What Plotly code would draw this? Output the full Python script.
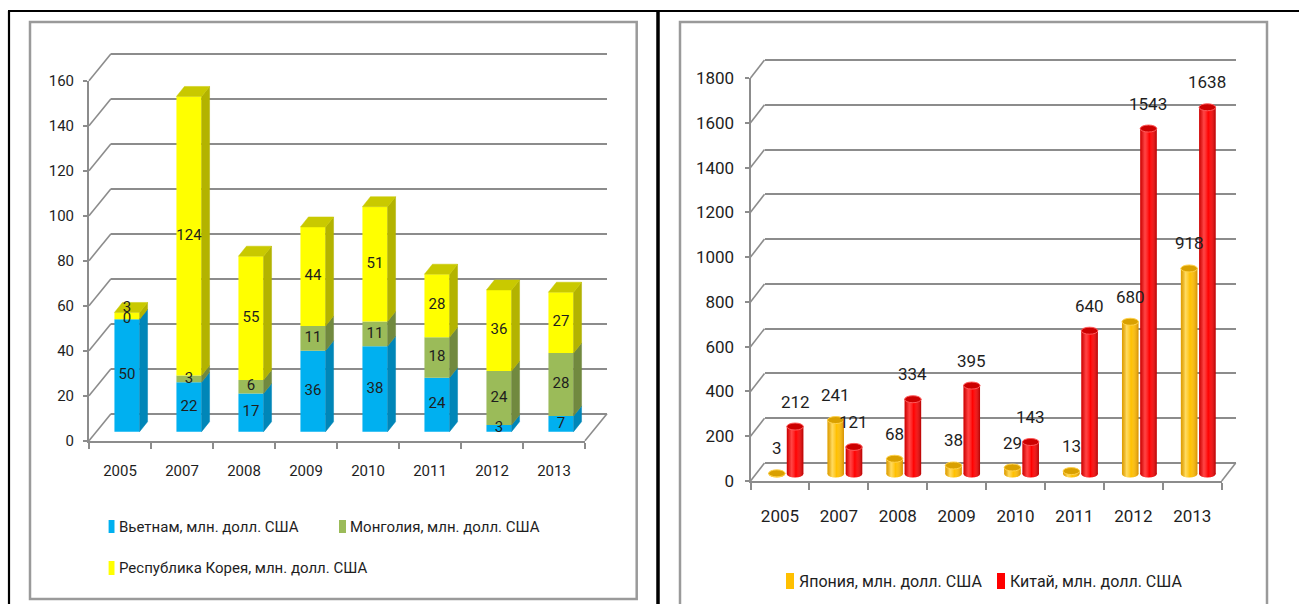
import numpy as np
import plotly.graph_objects as go

W, H = 1299, 604

# ---- data -------------------------------------------------------------
years = ["2005", "2007", "2008", "2009", "2010", "2011", "2012", "2013"]
vietnam = [50, 22, 17, 36, 38, 24, 3, 7]
mongolia = [0, 3, 6, 11, 11, 18, 24, 28]
korea = [3, 124, 55, 44, 51, 28, 36, 27]
japan = [3, 241, 68, 38, 29, 13, 680, 918]
china = [212, 121, 334, 395, 143, 640, 1543, 1638]
left_ticks = list(range(0, 161, 20))
right_ticks = list(range(0, 1801, 200))

left_names = ["Вьетнам, млн. долл. США", "Монголия, млн. долл. США",
              "Республика Корея, млн. долл. США"]
right_names = ["Япония, млн. долл. США", "Китай, млн. долл. США"]

# ---- styling ----------------------------------------------------------
FONT = "Roboto, Liberation Sans, sans-serif"
FS_L, FS_R, FS_LEG_L, FS_LEG_R = 15, 17, 15, 16
GRID = "#8c8c8c"
TXT = "#1e1e1e"
BLUE, BLUE_S = "#00b0f0", "#0086b8"
GREEN, GREEN_S = "#9bbb59", "#71893f"
YEL, YEL_S, YEL_T = "#ffff00", "#b3b300", "#c9c900"
GOLD, GOLD_CAP, GOLD_RIM = "#ffc000", "#d9a000", "#ffd24a"
RED, RED_CAP, RED_RIM = "#ff0000", "#cc0000", "#ff5a5a"

n = len(years)
xs = list(range(n))


def plane(xr, yr, x0, y0, cx, cy, sx=0.0, sy=0.0):
    """Axis domains for a depth plane: x0/y0 are the pixels of value 0 on the
    front plane, cx/cy pixels per unit, sx/sy the depth shift in pixels."""
    xd = [(x0 + sx + xr[0] * cx) / W, (x0 + sx + xr[1] * cx) / W]
    yd = [1 - (y0 + sy - yr[0] * cy) / H, 1 - (y0 + sy - yr[1] * cy) / H]
    return xd, yd


def hidden(**kw):
    d = dict(showgrid=False, zeroline=False, showline=False,
             showticklabels=False, ticks="", fixedrange=True)
    d.update(kw)
    return d


fig = go.Figure()
layout = {}
shapes = []
annotations = []


def ghost(xa, ya):
    fig.add_trace(go.Scatter(x=[None], y=[None], xaxis=xa, yaxis=ya,
                             showlegend=False, hoverinfo="skip"))


def px2paper(px, py):
    return px / W, 1 - py / H


# =====================================================================
# Left chart: stacked 3-D columns
# =====================================================================
LX, LCX = 89 + 31, 62.0          # pixel of x=0, pixels per category
LY, LCY = 440.7, 2.25            # pixel of y=0, pixels per unit
BACK_L = (22, -27)
BAR_L = (7, -9)
DEP_L = (8, -10)
bdx, bdy = BACK_L[0] / LCX, -BACK_L[1] / LCY

# back wall (grid)
xr, yr = [-0.5, 7.5], [-1, 161]
xd, yd = plane(xr, yr, LX, LY, LCX, LCY, *BACK_L)
layout["xaxis"] = hidden(domain=xd, range=xr, anchor="y")
layout["yaxis"] = hidden(domain=yd, range=yr, anchor="x", showgrid=True,
                         gridcolor=GRID, gridwidth=2, tickmode="array",
                         tickvals=left_ticks)
ghost("x", "y")

# connectors between front axis and back wall
xr, yr = [-0.7, 7.5 + bdx + 0.2], [-2, 160 + bdy + 2]
xd, yd = plane(xr, yr, LX, LY, LCX, LCY)
layout["xaxis2"] = hidden(domain=xd, range=xr, anchor="y2")
layout["yaxis2"] = hidden(domain=yd, range=yr, anchor="x2")
ghost("x2", "y2")
for v in left_ticks:
    shapes.append(dict(type="line", xref="x2", yref="y2", x0=-0.5, y0=v,
                       x1=-0.5 + bdx, y1=v + bdy, layer="below",
                       line=dict(color=GRID, width=1.6)))
shapes.append(dict(type="line", xref="x2", yref="y2", x0=7.5, y0=0,
                   x1=7.5 + bdx, y1=bdy, layer="below",
                   line=dict(color=GRID, width=1.6)))

# front axes with labels
xr, yr = [-0.5, 7.5], [0, 160]
xd, yd = plane(xr, yr, LX, LY, LCX, LCY)
layout["xaxis3"] = dict(domain=xd, range=xr, anchor="y3", showgrid=False,
                        zeroline=False, showline=True, linecolor=GRID,
                        linewidth=2, tickmode="array", tickvals=xs,
                        ticktext=years, ticks="", ticklabelstandoff=15,
                        tickfont=dict(family=FONT, size=FS_L, color=TXT),
                        minor=dict(tickmode="array",
                                   tickvals=[i - 0.5 for i in range(n + 1)],
                                   ticks="outside", ticklen=6, tickwidth=1.5,
                                   tickcolor=GRID, showgrid=False),
                        fixedrange=True)
layout["yaxis3"] = dict(domain=yd, range=yr, anchor="x3", showgrid=False,
                        zeroline=False, showline=True, linecolor=GRID,
                        linewidth=2, tickmode="array", tickvals=left_ticks,
                        ticks="outside", ticklen=4, tickwidth=1.5,
                        tickcolor=GRID, ticklabelstandoff=6,
                        tickfont=dict(family=FONT, size=FS_L, color=TXT),
                        fixedrange=True)
ghost("x3", "y3")

# columns
xr, yr = [-0.5, 7.9], [-2, 165]
xd, yd = plane(xr, yr, LX, LY, LCX, LCY, *BAR_L)
layout["xaxis4"] = hidden(domain=xd, range=xr, anchor="y4")
layout["yaxis4"] = hidden(domain=yd, range=yr, anchor="x4")

BW = 0.405
hw = BW / 2
ddx, ddy = DEP_L[0] / LCX, -DEP_L[1] / LCY
base_v = [0] * n
base_m = list(vietnam)
base_k = [a + b for a, b in zip(vietnam, mongolia)]
totals = [a + b for a, b in zip(base_k, korea)]

stack = [(vietnam, base_v, BLUE, BLUE_S, left_names[0]),
         (mongolia, base_m, GREEN, GREEN_S, left_names[1]),
         (korea, base_k, YEL, YEL_S, left_names[2])]

for vals, base, col, side, name in stack:
    fig.add_trace(go.Bar(x=xs, y=vals, base=base, width=BW, name=name,
                         marker=dict(color=col, line=dict(width=0)),
                         xaxis="x4", yaxis="y4", showlegend=False,
                         hovertemplate="%{x}: %{y}<extra>" + name + "</extra>"))
    sx_, sy_ = [], []
    for i, (b, v) in enumerate(zip(base, vals)):
        x1 = i + hw
        t = b + v
        sx_ += [x1, x1 + ddx, x1 + ddx, x1, x1, None]
        sy_ += [b, b + ddy, t + ddy, t, b, None]
    fig.add_trace(go.Scatter(x=sx_, y=sy_, mode="lines", fill="toself",
                             fillcolor=side, line=dict(color=side, width=0.5),
                             xaxis="x4", yaxis="y4", showlegend=False,
                             hoverinfo="skip"))

tx, ty = [], []
for i, T in enumerate(totals):
    x0, x1 = i - hw, i + hw
    tx += [x0, x0 + ddx, x1 + ddx, x1, x0, None]
    ty += [T, T + ddy, T + ddy, T, T, None]
fig.add_trace(go.Scatter(x=tx, y=ty, mode="lines", fill="toself",
                         fillcolor=YEL_T, line=dict(color=YEL_T, width=0.5),
                         xaxis="x4", yaxis="y4", showlegend=False,
                         hoverinfo="skip"))

# value labels in the middle of each segment; a label of the top segment
# that is too thin to hold it sits on the segment's upper edge instead
for k, (vals, base, _, _, _) in enumerate(stack):
    if k == len(stack) - 1:
        pos = ["top center" if v * LCY < 8 else "middle center" for v in vals]
    else:
        pos = "middle center"
    fig.add_trace(go.Scatter(x=xs, y=[b + v / 2 for b, v in zip(base, vals)],
                             mode="text", text=[str(v) for v in vals],
                             textposition=pos,
                             textfont=dict(family=FONT, size=FS_L, color=TXT),
                             cliponaxis=False, xaxis="x4", yaxis="y4",
                             showlegend=False, hoverinfo="skip"))

# =====================================================================
# Right chart: clustered cylinders
# =====================================================================
RCX = 58.9
RX = 750.5 + RCX / 2
RY, RCY = 481.0, 403.0 / 1800
BACK_R = (14, -18)
BAR_R = (6, -7)
rdx, rdy = BACK_R[0] / RCX, -BACK_R[1] / RCY

xr, yr = [-0.5, 7.5], [-10, 1810]
xd, yd = plane(xr, yr, RX, RY, RCX, RCY, *BACK_R)
layout["xaxis5"] = hidden(domain=xd, range=xr, anchor="y5")
layout["yaxis5"] = hidden(domain=yd, range=yr, anchor="x5", showgrid=True,
                          gridcolor=GRID, gridwidth=2, tickmode="array",
                          tickvals=right_ticks)
ghost("x5", "y5")

xr, yr = [-0.7, 7.5 + rdx + 0.2], [-20, 1800 + rdy + 20]
xd, yd = plane(xr, yr, RX, RY, RCX, RCY)
layout["xaxis6"] = hidden(domain=xd, range=xr, anchor="y6")
layout["yaxis6"] = hidden(domain=yd, range=yr, anchor="x6")
ghost("x6", "y6")
for v in right_ticks:
    shapes.append(dict(type="line", xref="x6", yref="y6", x0=-0.5, y0=v,
                       x1=-0.5 + rdx, y1=v + rdy, layer="below",
                       line=dict(color=GRID, width=1.6)))
shapes.append(dict(type="line", xref="x6", yref="y6", x0=7.5, y0=0,
                   x1=7.5 + rdx, y1=rdy, layer="below",
                   line=dict(color=GRID, width=1.6)))

xr, yr = [-0.5, 7.5], [0, 1800]
xd, yd = plane(xr, yr, RX, RY, RCX, RCY)
layout["xaxis7"] = dict(domain=xd, range=xr, anchor="y7", showgrid=False,
                        zeroline=False, showline=True, linecolor=GRID,
                        linewidth=2, tickmode="array", tickvals=xs,
                        ticktext=years, ticks="", ticklabelstandoff=19,
                        tickfont=dict(family=FONT, size=FS_R, color=TXT),
                        minor=dict(tickmode="array",
                                   tickvals=[i - 0.5 for i in range(n + 1)],
                                   ticks="outside", ticklen=7, tickwidth=1.5,
                                   tickcolor=GRID, showgrid=False),
                        fixedrange=True)
layout["yaxis7"] = dict(domain=yd, range=yr, anchor="x7", showgrid=False,
                        zeroline=False, showline=True, linecolor=GRID,
                        linewidth=2, tickmode="array", tickvals=right_ticks,
                        ticks="outside", ticklen=4, tickwidth=1.5,
                        tickcolor=GRID, ticklabelstandoff=7,
                        tickfont=dict(family=FONT, size=FS_R, color=TXT),
                        fixedrange=True)
ghost("x7", "y7")

xr, yr = [-0.5, 7.6], [-60, 1800]
xd, yd = plane(xr, yr, RX, RY, RCX, RCY, *BAR_R)
layout["xaxis8"] = hidden(domain=xd, range=xr, anchor="y8")
layout["yaxis8"] = hidden(domain=yd, range=yr, anchor="x8")

CW = 0.28
CH = CW / 2
COFF = 0.155
EH = 7.0 / RCY            # ellipse height in data units
t_arc = np.linspace(np.pi, 2 * np.pi, 25)

series_r = [
    (japan, -COFF, GOLD, GOLD_CAP, GOLD_RIM, right_names[0],
     [[0, "rgba(150,80,0,0.30)"], [0.28, "rgba(255,245,190,0.50)"],
      [0.55, "rgba(255,255,255,0)"], [1, "rgba(150,70,0,0.40)"]]),
    (china, COFF, RED, RED_CAP, RED_RIM, right_names[1],
     [[0, "rgba(110,0,0,0.35)"], [0.28, "rgba(255,170,170,0.40)"],
      [0.55, "rgba(255,255,255,0)"], [1, "rgba(90,0,0,0.45)"]]),
]

for vals, off, col, cap, rim, name, shade in series_r:
    fig.add_trace(go.Bar(x=xs, y=vals, base=[0] * n, width=CW,
                         offset=off - CH, name=name,
                         marker=dict(color=col, line=dict(width=0)),
                         xaxis="x8", yaxis="y8", showlegend=False,
                         hovertemplate="%{x}: %{y}<extra>" + name + "</extra>"))
    for i, v in enumerate(vals):
        c = i + off
        # rounded bottom and shading of the cylinder body
        px_ = list(c + CH * np.cos(t_arc)) + [c + CH, c - CH, c - CH]
        py_ = list(EH / 2 * np.sin(t_arc)) + [v, v, 0]
        fig.add_trace(go.Scatter(x=px_, y=py_, mode="lines", fill="toself",
                                 fillgradient=dict(type="horizontal",
                                                   colorscale=shade),
                                 line=dict(width=0), xaxis="x8", yaxis="y8",
                                 showlegend=False, hoverinfo="skip"))
        shapes.append(dict(type="circle", xref="x8", yref="y8",
                           x0=c - CH, x1=c + CH, y0=-EH / 2, y1=EH / 2,
                           fillcolor=col, line=dict(width=0), layer="below"))
        shapes.append(dict(type="circle", xref="x8", yref="y8",
                           x0=c - CH, x1=c + CH, y0=v - EH / 2, y1=v + EH / 2,
                           fillcolor=cap, line=dict(color=rim, width=1),
                           layer="above"))
        annotations.append(dict(x=c, y=v, xref="x8", yref="y8", yshift=25,
                                text=str(v), showarrow=False,
                                xanchor="center", yanchor="middle",
                                font=dict(family=FONT, size=FS_R, color=TXT)))

# =====================================================================
# Legends
# =====================================================================
def legend_item(x0, x1, ytop, ybot, color, tx, text, size):
    a, b = px2paper(x0, ytop)
    c, d = px2paper(x1, ybot)
    shapes.append(dict(type="rect", xref="paper", yref="paper", x0=a, x1=c,
                       y0=d, y1=b, fillcolor=color, line=dict(width=0)))
    px, py = px2paper(tx, (ytop + ybot) / 2)
    annotations.append(dict(x=px, y=py, xref="paper", yref="paper",
                            text=text, showarrow=False, xanchor="left",
                            yanchor="middle", borderpad=0,
                            font=dict(family=FONT, size=size, color=TXT)))


legend_item(108.6, 114.5, 520, 533, BLUE, 118, left_names[0], FS_LEG_L)
legend_item(339, 346, 520, 533, GREEN, 349, left_names[1], FS_LEG_L)
legend_item(108.6, 114.5, 561, 575, YEL, 118, left_names[2], FS_LEG_L)
legend_item(786, 794, 573, 589, GOLD, 797.5, right_names[0], FS_LEG_R)
legend_item(997, 1005, 573, 589, RED, 1009, right_names[1], FS_LEG_R)

# =====================================================================
# Panel frames
# =====================================================================
def pline(x0, y0, x1, y1, color, width):
    a, b = px2paper(x0, y0)
    c, d = px2paper(x1, y1)
    shapes.append(dict(type="line", xref="paper", yref="paper", x0=a, y0=b,
                       x1=c, y1=d, line=dict(color=color, width=width)))


def prect(x0, y0, x1, y1, color, width):
    a, b = px2paper(x0, y0)
    c, d = px2paper(x1, y1)
    shapes.append(dict(type="rect", xref="paper", yref="paper", x0=a, y0=d,
                       x1=c, y1=b, line=dict(color=color, width=width)))


prect(30, 22, 636.7, 599, "#9a9a9a", 2.5)
prect(680, 22, 1267, 612, "#9a9a9a", 2.5)
pline(8, 11, 1299, 11, "#000000", 2.2)
pline(9, 11, 9, 604, "#000000", 2.2)
pline(658, 11, 658, 604, "#000000", 3.5)

fig.update_layout(
    width=W, height=H,
    margin=dict(l=0, r=0, t=0, b=0, pad=0, autoexpand=False),
    paper_bgcolor="white", plot_bgcolor="rgba(0,0,0,0)",
    barmode="overlay", showlegend=False,
    font=dict(family=FONT, color=TXT),
    shapes=shapes, annotations=annotations,
    **layout,
)

fig.write_html("out.html")
